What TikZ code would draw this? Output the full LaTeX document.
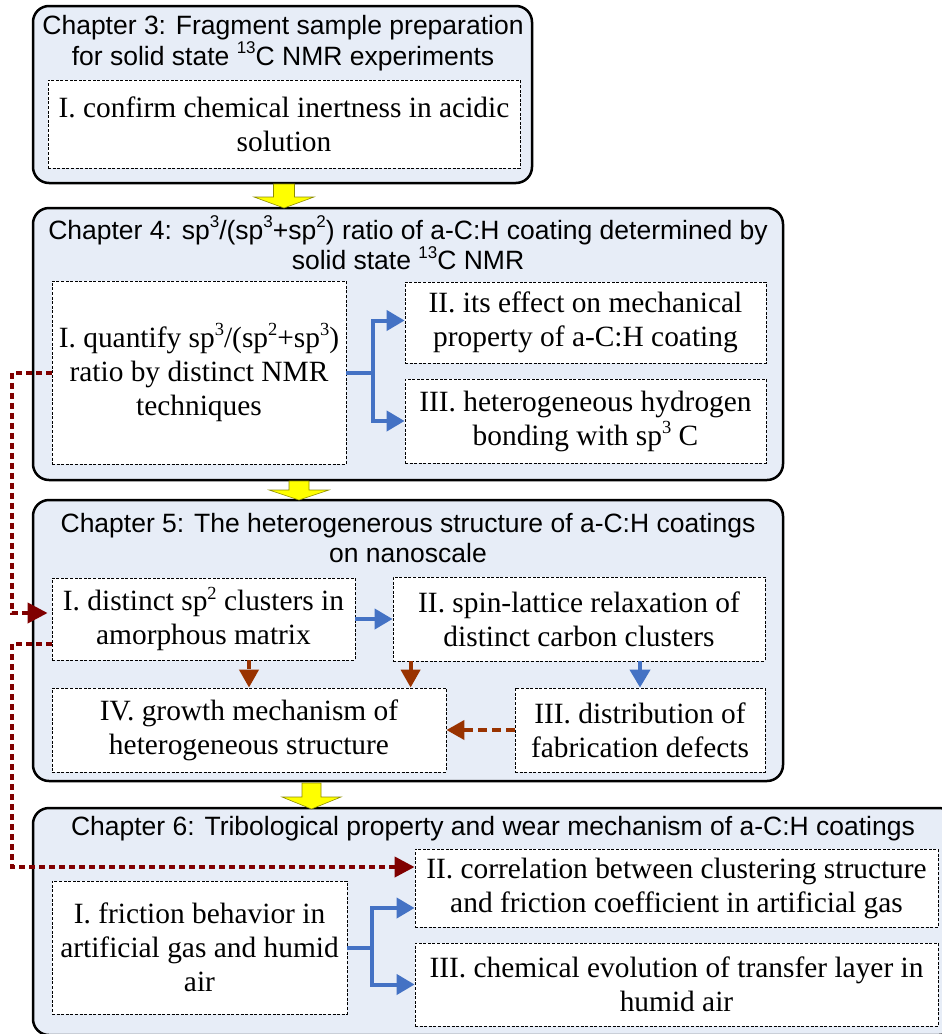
\documentclass[tikz,border=0pt]{standalone}
\usepackage{fontspec}
\setmainfont{Liberation Serif}
\setsansfont{Liberation Sans}
\usetikzlibrary{arrows.meta,calc}
\definecolor{chapfill}{RGB}{231,237,247}
\definecolor{bluec}{RGB}{68,114,196}
\definecolor{brownc}{RGB}{153,51,0}
\definecolor{redc}{RGB}{128,0,0}
\definecolor{yelc}{RGB}{255,255,0}
\newcommand\mysupr[1]{\raisebox{0.4em}{\fontsize{18.5}{18.5}\selectfont #1}}
\newcommand\mysups[1]{\raisebox{0.42em}{\fontsize{17}{17}\selectfont #1}}
\begin{document}
\begin{tikzpicture}[x=1pt,y=-1pt,
  chap/.style={draw=black, line width=2.5pt, fill=chapfill, rounded corners=16pt, inner sep=0pt},
  sub/.style={draw=black, line width=0.8pt, dash pattern=on 3pt off 1.6pt, fill=white, align=center, inner sep=0pt, font=\fontsize{29.4}{34}\selectfont},
  ttl/.style={align=center, inner sep=0pt, font=\sffamily\fontsize{26.5}{30.5}\selectfont},
  bluearrow/.style={draw=bluec, line width=4pt, -{Triangle[length=18pt,width=20pt]}},
  brownarrow/.style={draw=brownc, line width=4pt, dash pattern=on 9pt off 5pt, -{Triangle[length=18pt,width=19pt]}},
  redarrow/.style={draw=redc, line width=4pt, dash pattern=on 6pt off 4pt, -{Triangle[length=20pt,width=20pt]}},
  yarrow/.style={fill=yelc, draw=black!45!yelc, line width=0.6pt}
]
\useasboundingbox (0,0) rectangle (942,1034);
\clip (0,0) rectangle (942,1034);

% chapter boxes
\node[chap, minimum width=499pt, minimum height=177pt] (ch3) at (282.5,94.5) {};
\node[chap, minimum width=750pt, minimum height=272pt] (ch4) at (408,344) {};
\node[chap, minimum width=750pt, minimum height=281pt] (ch5) at (408,640.5) {};
\node[chap, minimum width=922pt, minimum height=227pt] (ch6) at (494,921.5) {};

% yellow arrows
\fill[yarrow] (273.5,184) -- (294.5,184) -- (294.5,197) -- (314,197) -- (284,208) -- (254,197) -- (273.5,197) -- cycle;
\fill[yarrow] (289,481) -- (309,481) -- (309,490) -- (329,490) -- (299,500) -- (269,490) -- (289,490) -- cycle;
\fill[yarrow] (302,783) -- (321,783) -- (321,797) -- (341,797) -- (311.5,809) -- (282,797) -- (302,797) -- cycle;

% titles
\node[ttl] (t3) at (283,43) {Chapter 3: Fragment sample preparation\\for solid state \mysups{13}C NMR experiments};
\node[ttl] (t4) at (408,243) {Chapter 4: sp\mysups{3}/(sp\mysups{3}+sp\mysups{2}) ratio of a-C:H coating determined by\\solid state \mysups{13}C NMR};
\node[ttl] (t5) at (408,538) {Chapter 5: The heterogenerous structure of a-C:H coatings\\on nanoscale};
\node[ttl] (t6) at (493,829) {Chapter 6: Tribological property and wear mechanism of a-C:H coatings};

% sub boxes
\node[sub, minimum width=472pt, minimum height=88pt] (c3i) at (284,124) {I. confirm chemical inertness in acidic\\solution};

\node[sub, minimum width=294pt, minimum height=183pt] (c4i) at (199,372.5) {I. quantify sp\mysupr{3}/(sp\mysupr{2}+sp\mysupr{3})\\ratio by distinct NMR\\techniques};
\node[sub, minimum width=361pt, minimum height=81pt] (c4ii) at (585.5,322.5) {II. its effect on mechanical\\property of a-C:H coating};
\node[sub, minimum width=361pt, minimum height=84pt] (c4iii) at (585.5,421) {III. heterogeneous hydrogen\\bonding with sp\mysupr{3} C};

\node[sub, minimum width=303pt, minimum height=82pt] (c5i) at (203.5,619) {I. distinct sp\mysupr{2} clusters in\\amorphous matrix};
\node[sub, minimum width=372pt, minimum height=84pt] (c5ii) at (579,619) {II. spin-lattice relaxation of\\distinct carbon clusters};
\node[sub, minimum width=394pt, minimum height=84pt] (c5iv) at (249,730) {IV. growth mechanism of\\heterogeneous structure};
\node[sub, minimum width=250pt, minimum height=84pt] (c5iii) at (640,730) {III. distribution of\\fabrication defects};

\node[sub, minimum width=295pt, minimum height=133pt] (c6i) at (199.5,947.5) {I. friction behavior in\\artificial gas and humid\\air};
\node[sub, minimum width=523pt, minimum height=78pt] (c6ii) at (676.5,888) {II. correlation between clustering structure\\and friction coefficient in artificial gas};
\node[sub, minimum width=523pt, minimum height=83pt] (c6iii) at (676.5,984.5) {III. chemical evolution of transfer layer in\\humid air};

% chapter 4 connectors
\draw[bluearrow] (c4i.east) -- ++(27,0) |- ([yshift=2pt]c4ii.west);
\draw[bluearrow] (c4i.east) -- ++(27,0) |- (c4iii.west);

% chapter 5 connectors
\draw[bluearrow] (c5i.east) -- (c5ii.west);
\draw[bluearrow] (c5ii.south -| c5iii.north) -- (c5iii.north);
\draw[brownarrow] (c5i.south -| c5iv.north) -- (c5iv.north);
\coordinate (b2) at ($(c5ii.south west)+(18,0)$);
\draw[brownarrow] (b2) -- (b2 |- c5iv.north);
\draw[brownarrow] (c5iii.west) -- (c5iv.east);

% chapter 6 connectors
\draw[bluearrow] (c6i.east) -- ++(25,0) |- ([yshift=-20pt]c6ii.west);
\draw[bluearrow] (c6i.east) -- ++(25,0) |- (c6iii.west);

% long red dotted connectors
\coordinate (lft) at (12,0);
\draw[redarrow, shorten >=4pt] (c4i.west) -- (c4i.west -| lft) |- ([yshift=6pt]c5i.west);
\draw[redarrow] ([yshift=-25pt]c5i.west) -- ([yshift=-25pt]c5i.west -| lft) |- ([yshift=21pt]c6ii.west);
\end{tikzpicture}
\end{document}
